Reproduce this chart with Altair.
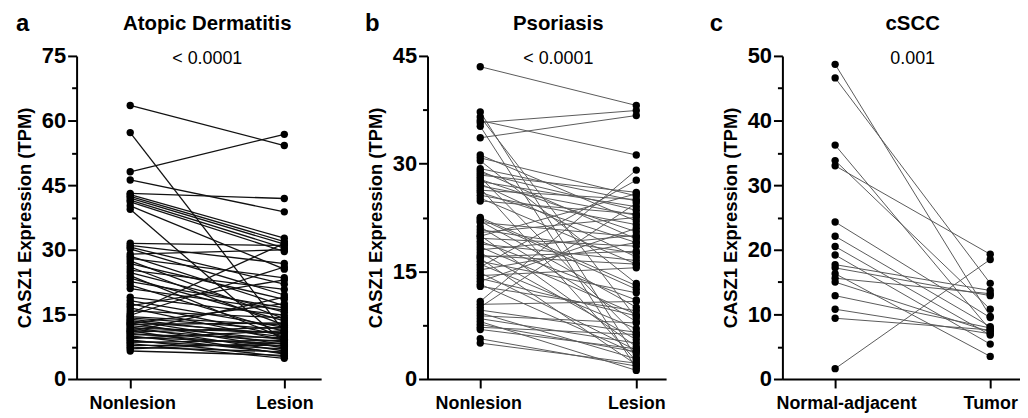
import altair as alt
import pandas as pd

FONT = "Liberation Sans"

# ---------------- data ----------------
ad_nonlesion = [63.5, 57.2, 48.1, 46.2, 43.1, 42.8, 42.4, 42.0, 41.5, 41.1,
                40.2, 39.4, 31.5, 31.0, 30.6, 30.2, 29.0, 28.5, 28.0, 27.4,
                26.8, 26.0, 25.3, 24.7, 24.0, 23.4, 22.6, 21.8, 21.0, 19.0,
                18.2, 17.5, 17.0, 16.5, 15.8, 15.2, 14.8, 14.5, 14.2, 13.9,
                13.6, 13.3, 13.0, 12.9, 12.7, 12.4, 12.1, 11.8, 11.5, 11.2,
                11.0, 10.9, 10.6, 10.3, 10.0, 9.7, 9.4, 9.1, 8.8, 8.5,
                8.2, 7.8, 7.4, 7.0, 6.5]
ad_lesion = [54.2, 11.0, 56.8, 38.8, 41.9, 32.7, 31.9, 31.3, 30.4, 29.6,
             25.5, 8.5, 31.0, 26.8, 22.0, 19.5, 30.0, 17.0, 23.5, 14.0,
             18.5, 12.5, 20.8, 15.5, 9.5, 13.5, 16.5, 11.0, 16.0, 14.8,
             12.0, 10.0, 23.0, 9.0, 14.2, 31.5, 26.0, 12.5, 11.5, 9.8,
             8.0, 10.5, 7.2, 17.5, 13.0, 9.2, 6.5, 10.8, 8.6, 5.8,
             19.0, 12.0, 7.6, 9.6, 6.0, 8.2, 11.2, 5.2, 7.0, 9.0,
             4.8, 7.8, 6.3, 8.4, 5.5]

pso_nonlesion = [43.5, 37.2, 36.5, 36.0, 35.7, 35.2, 33.6, 31.2, 30.8, 30.4,
                 29.3, 29.0, 28.7, 28.4, 28.1, 27.8, 27.5, 27.2, 26.9, 26.6,
                 26.3, 26.0, 25.6, 25.2, 24.8, 22.5, 22.3, 22.0, 21.8, 21.2,
                 20.8, 20.4, 20.0, 19.9, 19.6, 19.2, 18.8, 18.4, 18.0, 17.6,
                 17.2, 17.0, 16.8, 16.4, 16.0, 15.6, 15.2, 14.8, 14.4, 14.0,
                 13.6, 13.2, 12.9, 10.8, 10.4, 10.0, 9.6, 9.2, 8.8, 8.4,
                 8.0, 7.6, 7.2, 6.9, 5.6, 5.0]
pso_lesion = [38.1, 3.0, 8.5, 31.2, 37.4, 1.5, 36.7, 22.0, 25.5, 13.3,
              24.8, 19.5, 23.5, 26.0, 6.0, 20.5, 24.0, 17.0, 22.8, 2.5,
              25.0, 19.0, 21.5, 16.0, 23.0, 13.0, 12.5, 10.0, 19.8, 8.0,
              17.5, 22.5, 4.5, 25.8, 18.5, 11.0, 16.5, 9.0, 20.0, 5.5,
              16.0, 17.8, 2.0, 12.0, 7.0, 27.7, 19.0, 4.0, 15.5, 8.8,
              21.0, 3.5, 9.5, 29.1, 10.8, 24.5, 6.5, 2.8, 7.8, 5.0,
              1.2, 3.8, 6.2, 4.2, 1.8, 2.2]

cscc_normal = [48.7, 46.6, 36.2, 33.8, 33.0, 24.3, 22.1, 20.5, 19.2, 17.7,
               17.2, 16.3, 15.6, 15.0, 12.9, 10.8, 9.4, 1.6]
cscc_tumor = [9.7, 14.8, 7.6, 10.8, 19.3, 9.5, 8.1, 6.8, 5.4, 13.7,
              12.9, 3.5, 13.2, 7.3, 7.9, 7.0, 7.6, 18.5]

ad_groups = ["Nonlesion", "Lesion"]
pso_groups = ["Nonlesion", "Lesion"]
cscc_groups = ["Normal-adjacent", "Tumor"]


def long_df(a, b):
    rows = []
    for i, (u, v) in enumerate(zip(a, b)):
        rows.append({"pair": i, "pos": 0, "value": u})
        rows.append({"pair": i, "pos": 1, "value": v})
    return pd.DataFrame(rows)


def panel(a, b, groups, ymax, major, minor, xdom, title, pval, letter,
          letter_dx, line_color, line_width, label0_offset, width):
    df = long_df(a, b)
    xscale = alt.Scale(domain=xdom, nice=False, zero=False)
    yscale = alt.Scale(domain=[0, ymax], nice=False)
    n = int(round(ymax / minor))
    yvals = [i * minor for i in range(n + 1)]

    xaxis = alt.Axis(
        values=[0, 1],
        labelExpr=f"datum.value === 0 ? '{groups[0]}' : '{groups[1]}'",
        title=None, grid=False,
        domainColor="black", domainWidth=2,
        tickColor="black", tickWidth=2, tickSize=9,
        labelFont=FONT, labelFontSize=18, labelFontWeight="bold",
        labelColor="black", labelPadding=7, labelOverlap=False,
        labelFlush=False,
        labelOffset={"condition": {"test": "datum.value === 0",
                                   "value": label0_offset}, "value": 0},
    )
    yaxis = alt.Axis(
        values=yvals,
        labelExpr=f"datum.value % {major} === 0 ? datum.label : ''",
        title="CASZ1 Expression (TPM)", grid=False,
        domainColor="black", domainWidth=2,
        tickColor="black", tickWidth=2,
        tickSize={"condition": {"test": f"datum.value % {major} === 0",
                                "value": 9}, "value": 5},
        labelFont=FONT, labelFontSize=22, labelFontWeight="bold",
        labelColor="black", labelPadding=2, labelOverlap=False,
        labelFlush=False,
        titleFont=FONT, titleFontSize=18.5, titleFontWeight="bold",
        titleColor="black", titlePadding=7,
    )

    base = alt.Chart(df)
    lines = base.mark_line(color=line_color, strokeWidth=line_width).encode(
        x=alt.X("pos:Q", scale=xscale, axis=xaxis),
        y=alt.Y("value:Q", scale=yscale, axis=yaxis),
        detail="pair:N",
    )
    pts = base.mark_circle(color="black", size=55, opacity=1).encode(
        x=alt.X("pos:Q", scale=xscale, axis=xaxis),
        y=alt.Y("value:Q", scale=yscale, axis=yaxis),
    )
    tdf = pd.DataFrame({"title": [title], "pval": [pval], "letter": [letter]})
    tbase = alt.Chart(tdf)
    title_t = tbase.mark_text(font=FONT, fontSize=20.5, fontWeight="bold",
                              color="black", align="center",
                              baseline="alphabetic").encode(
        x=alt.datum(0.5), y=alt.value(-26), text="title:N")
    pval_t = tbase.mark_text(font=FONT, fontSize=18, color="black",
                             align="center", baseline="middle").encode(
        x=alt.datum(0.5), y=alt.value(3), text="pval:N")
    letter_t = tbase.mark_text(font=FONT, fontSize=24, fontWeight="bold",
                               color="black", align="left",
                               baseline="alphabetic").encode(
        x=alt.value(letter_dx), y=alt.value(-25), text="letter:N")
    return alt.layer(lines, pts, title_t, pval_t, letter_t).properties(
        width=width, height=325)


pa = panel(ad_nonlesion, ad_lesion, ad_groups, 75, 15, 7.5,
           [-0.348, 1.239], "Atopic Dermatitis", "< 0.0001", "a", -61,
           "#111111", 1.3, 2, 246)
pb = panel(pso_nonlesion, pso_lesion, pso_groups, 45, 15, 7.5,
           [-0.338, 1.191], "Psoriasis", "< 0.0001", "b", -63,
           "#5a5a5a", 1.0, -2, 240)
pc = panel(cscc_normal, cscc_tumor, cscc_groups, 50, 10, 5,
           [-0.34, 1.192], "cSCC", "0.001", "c", -73,
           "#5a5a5a", 1.0, 11, 239)

chart = alt.hconcat(pa, pb, pc, spacing=44).configure_view(
    stroke=None
).properties(padding={"left": 7, "top": 3, "right": 0, "bottom": 0})

chart.save("out.html", embed_options={"renderer": "svg", "actions": False})
